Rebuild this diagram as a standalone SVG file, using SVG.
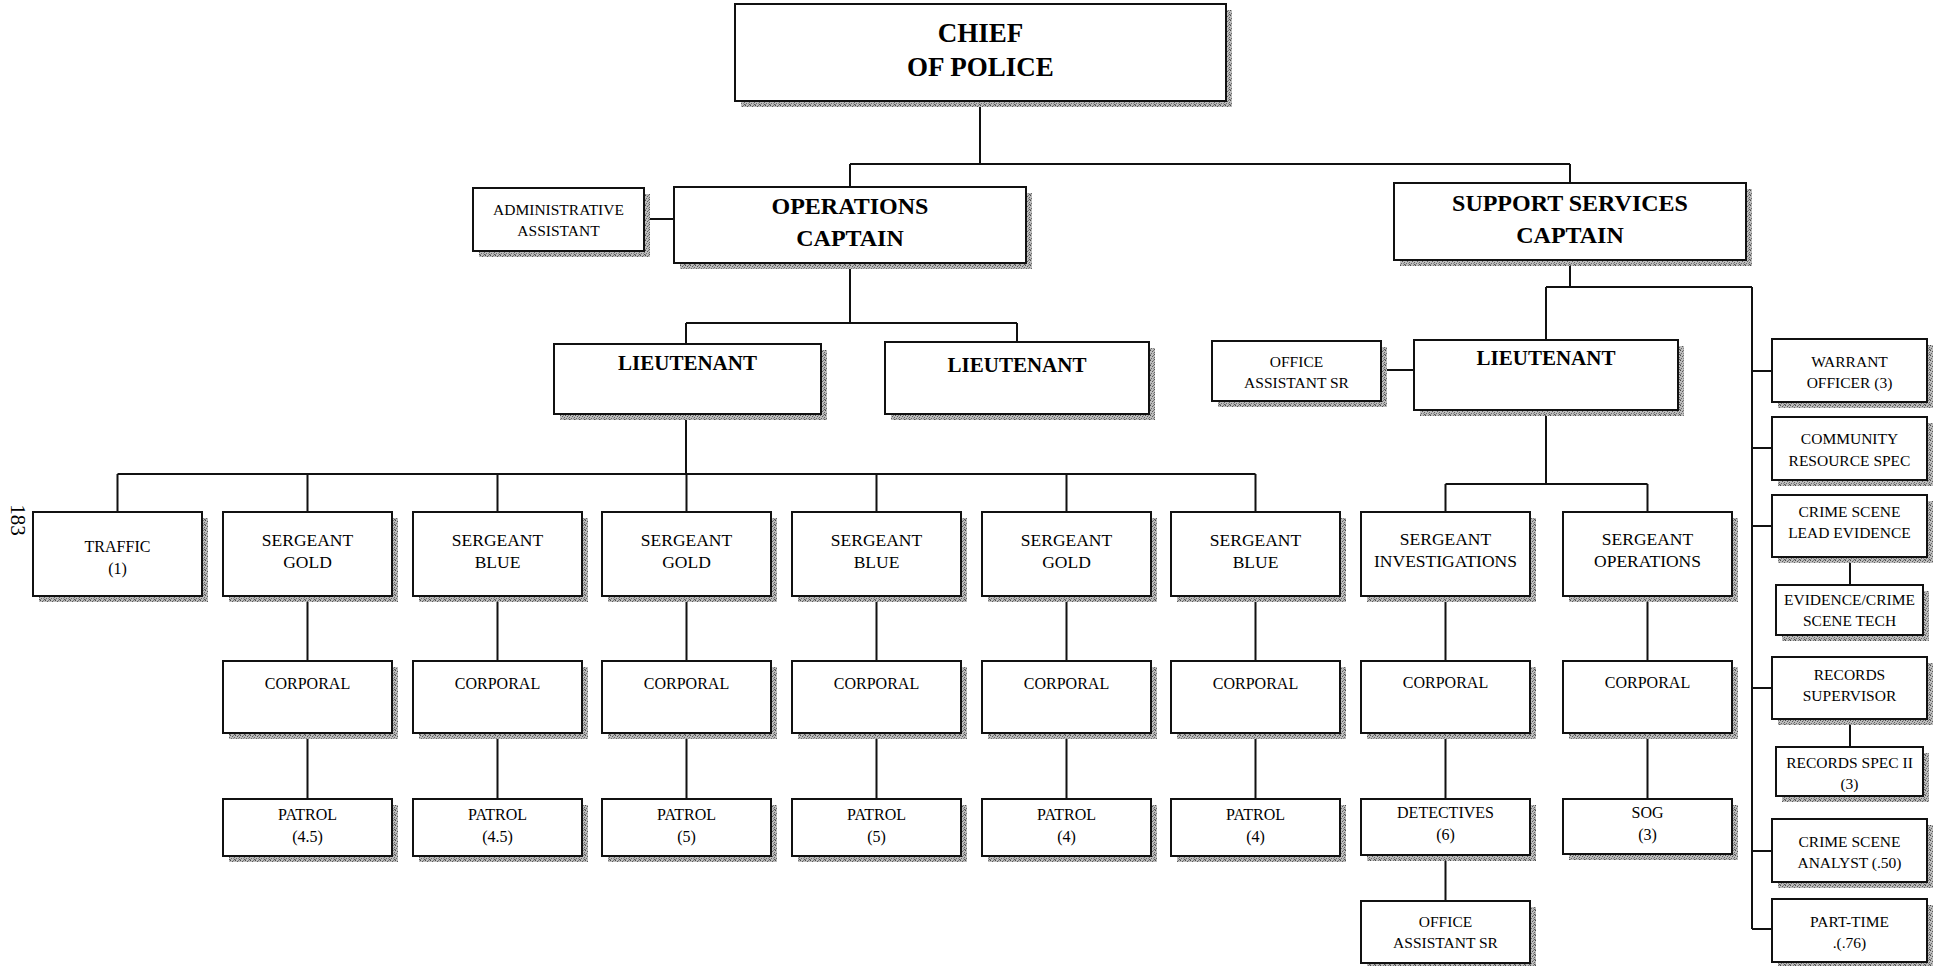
<svg xmlns="http://www.w3.org/2000/svg" width="1938" height="966" viewBox="0 0 1938 966">
  <defs>
    <!-- stippled halftone fill used for the drop shadows behind every box -->
    <pattern id="halftone" width="5" height="5" patternUnits="userSpaceOnUse">
      <rect width="5" height="5" fill="#bcbcbc"/>
      <rect x="0" y="0" width="1" height="1" fill="#4a4a4a"/>
      <rect x="3" y="0" width="1" height="1" fill="#777"/>
      <rect x="2" y="1" width="1" height="1" fill="#5a5a5a"/>
      <rect x="4" y="2" width="1" height="1" fill="#666"/>
      <rect x="1" y="3" width="1" height="1" fill="#6a6a6a"/>
      <rect x="3" y="3" width="1" height="1" fill="#8a8a8a"/>
      <rect x="0" y="4" width="1" height="1" fill="#888"/>
      <rect x="4" y="4" width="1" height="1" fill="#555"/>
    </pattern>
    <style>
      .shadow { fill: url(#halftone); }
      .box { fill: #fff; stroke: #111; stroke-width: 2; }
      .wire { fill: none; stroke: #111; stroke-width: 2; }
      text { font-family: "Liberation Serif", "Times New Roman", serif; fill: #000; text-anchor: middle; }
      .t27 { font-size: 27px; font-weight: bold; }
      .t24 { font-size: 24px; font-weight: bold; }
      .t21 { font-size: 21px; font-weight: bold; }
      .t17 { font-size: 17.5px; }
      .t16 { font-size: 16px; }
      .t15 { font-size: 15.5px; }
    </style>
  </defs>

  <rect width="1938" height="966" fill="#fff"/>

  <!-- page number -->
  <text class="t16" style="font-size:21px" transform="translate(11,520) rotate(90)">183</text>

  <!-- connectors -->
  <g id="connectors" class="wire">
    <path d="M980 101 V164 M850 164 H1570 M850 164 V187 M1570 164 V183"/>
    <path d="M644 219 H674"/>
    <path d="M850 263 V323 M686 323 H1017 M686 323 V344 M1017 323 V342"/>
    <path d="M686 414 V474 M117.5 474 H1255.5"/>
    <path d="M117.5 474 V512 M307.5 474 V512 M497.5 474 V512 M686.5 474 V512 M876.5 474 V512 M1066.5 474 V512 M1255.5 474 V512"/>
    <path d="M307.5 596 V661 M497.5 596 V661 M686.5 596 V661 M876.5 596 V661 M1066.5 596 V661 M1255.5 596 V661"/>
    <path d="M307.5 733 V799 M497.5 733 V799 M686.5 733 V799 M876.5 733 V799 M1066.5 733 V799 M1255.5 733 V799"/>
    <path d="M1381 370 H1414"/>
    <path d="M1570 260 V287 M1546 287 H1752 M1546 287 V340 M1752 287 V929"/>
    <path d="M1752 371 H1772 M1752 448 H1772 M1752 526 H1772 M1752 688 H1772 M1752 851 H1772 M1752 929 H1772"/>
    <path d="M1850 557 V585 M1850 719 V747"/>
    <path d="M1546 410 V484 M1445.5 484 H1647.5 M1445.5 484 V512 M1647.5 484 V512"/>
    <path d="M1445.5 596 V661 M1445.5 733 V799 M1445.5 855 V901"/>
    <path d="M1647.5 596 V661 M1647.5 733 V799"/>
  </g>

  <!-- top level -->
  <g id="chief">
    <rect class="shadow" x="741" y="10" width="491" height="97"/>
    <rect class="box" x="735" y="4" width="491" height="97"/>
    <text class="t27" x="980.5" y="42">CHIEF</text>
    <text class="t27" x="980.5" y="76">OF POLICE</text>
  </g>

  <g id="admin-assistant">
    <rect class="shadow" x="479" y="194" width="171" height="63"/>
    <rect class="box" x="473" y="188" width="171" height="63"/>
    <text class="t15" x="558.5" y="215">ADMINISTRATIVE</text>
    <text class="t15" x="558.5" y="236">ASSISTANT</text>
  </g>

  <g id="operations-captain">
    <rect class="shadow" x="680" y="193" width="352" height="76"/>
    <rect class="box" x="674" y="187" width="352" height="76"/>
    <text class="t24" x="850" y="214">OPERATIONS</text>
    <text class="t24" x="850" y="246">CAPTAIN</text>
  </g>

  <g id="support-captain">
    <rect class="shadow" x="1400" y="189" width="352" height="77"/>
    <rect class="box" x="1394" y="183" width="352" height="77"/>
    <text class="t24" x="1570" y="211">SUPPORT SERVICES</text>
    <text class="t24" x="1570" y="243">CAPTAIN</text>
  </g>

  <!-- lieutenants -->
  <g id="lieutenant-ops-1">
    <rect class="shadow" x="560" y="350" width="267" height="70"/>
    <rect class="box" x="554" y="344" width="267" height="70"/>
    <text class="t21" x="687.5" y="370">LIEUTENANT</text>
  </g>

  <g id="lieutenant-ops-2">
    <rect class="shadow" x="891" y="348" width="264" height="72"/>
    <rect class="box" x="885" y="342" width="264" height="72"/>
    <text class="t21" x="1017" y="372">LIEUTENANT</text>
  </g>

  <g id="office-assistant-sr-1">
    <rect class="shadow" x="1218" y="347" width="169" height="60"/>
    <rect class="box" x="1212" y="341" width="169" height="60"/>
    <text class="t15" x="1296.5" y="367">OFFICE</text>
    <text class="t15" x="1296.5" y="388">ASSISTANT SR</text>
  </g>

  <g id="lieutenant-support">
    <rect class="shadow" x="1420" y="346" width="264" height="70"/>
    <rect class="box" x="1414" y="340" width="264" height="70"/>
    <text class="t21" x="1546" y="365">LIEUTENANT</text>
  </g>

  <!-- support services side column -->
  <g id="warrant-officer">
    <rect class="shadow" x="1778" y="345" width="155" height="63"/>
    <rect class="box" x="1772" y="339" width="155" height="63"/>
    <text class="t15" x="1849.5" y="367">WARRANT</text>
    <text class="t15" x="1849.5" y="388">OFFICER (3)</text>
  </g>

  <g id="community-resource">
    <rect class="shadow" x="1778" y="423" width="155" height="63"/>
    <rect class="box" x="1772" y="417" width="155" height="63"/>
    <text class="t15" x="1849.5" y="444">COMMUNITY</text>
    <text class="t15" x="1849.5" y="466">RESOURCE SPEC</text>
  </g>

  <g id="crime-scene-lead">
    <rect class="shadow" x="1778" y="501" width="155" height="62"/>
    <rect class="box" x="1772" y="495" width="155" height="62"/>
    <text class="t15" x="1849.5" y="517">CRIME SCENE</text>
    <text class="t15" x="1849.5" y="538">LEAD EVIDENCE</text>
  </g>

  <g id="evidence-tech">
    <rect class="shadow" x="1782" y="591" width="147" height="50"/>
    <rect class="box" x="1776" y="585" width="147" height="50"/>
    <text class="t15" x="1849.5" y="605">EVIDENCE/CRIME</text>
    <text class="t15" x="1849.5" y="626">SCENE TECH</text>
  </g>

  <g id="records-supervisor">
    <rect class="shadow" x="1778" y="663" width="155" height="62"/>
    <rect class="box" x="1772" y="657" width="155" height="62"/>
    <text class="t15" x="1849.5" y="680">RECORDS</text>
    <text class="t15" x="1849.5" y="701">SUPERVISOR</text>
  </g>

  <g id="records-spec">
    <rect class="shadow" x="1782" y="753" width="147" height="49"/>
    <rect class="box" x="1776" y="747" width="147" height="49"/>
    <text class="t15" x="1849.5" y="768">RECORDS SPEC II</text>
    <text class="t15" x="1849.5" y="789">(3)</text>
  </g>

  <g id="crime-scene-analyst">
    <rect class="shadow" x="1778" y="825" width="155" height="63"/>
    <rect class="box" x="1772" y="819" width="155" height="63"/>
    <text class="t15" x="1849.5" y="847">CRIME SCENE</text>
    <text class="t15" x="1849.5" y="868">ANALYST (.50)</text>
  </g>

  <g id="part-time">
    <rect class="shadow" x="1778" y="905" width="155" height="63"/>
    <rect class="box" x="1772" y="899" width="155" height="63"/>
    <text class="t15" x="1849.5" y="927">PART-TIME</text>
    <text class="t15" x="1849.5" y="948">.(.76)</text>
  </g>

  <!-- operations lieutenant's units -->
  <g id="traffic">
    <rect class="shadow" x="39" y="518" width="169" height="84"/>
    <rect class="box" x="33" y="512" width="169" height="84"/>
    <text class="t16" x="117.5" y="552">TRAFFIC</text>
    <text class="t16" x="117.5" y="574">(1)</text>
  </g>

  <g id="sergeant-gold-1">
    <rect class="shadow" x="229" y="518" width="169" height="84"/>
    <rect class="box" x="223" y="512" width="169" height="84"/>
    <text class="t17" x="307.5" y="546">SERGEANT</text>
    <text class="t17" x="307.5" y="568">GOLD</text>
  </g>
  <g id="corporal-1">
    <rect class="shadow" x="229" y="667" width="169" height="72"/>
    <rect class="box" x="223" y="661" width="169" height="72"/>
    <text class="t16" x="307.5" y="689">CORPORAL</text>
  </g>
  <g id="patrol-1">
    <rect class="shadow" x="229" y="805" width="169" height="57"/>
    <rect class="box" x="223" y="799" width="169" height="57"/>
    <text class="t16" x="307.5" y="820">PATROL</text>
    <text class="t16" x="307.5" y="842">(4.5)</text>
  </g>

  <g id="sergeant-blue-1">
    <rect class="shadow" x="419" y="518" width="169" height="84"/>
    <rect class="box" x="413" y="512" width="169" height="84"/>
    <text class="t17" x="497.5" y="546">SERGEANT</text>
    <text class="t17" x="497.5" y="568">BLUE</text>
  </g>
  <g id="corporal-2">
    <rect class="shadow" x="419" y="667" width="169" height="72"/>
    <rect class="box" x="413" y="661" width="169" height="72"/>
    <text class="t16" x="497.5" y="689">CORPORAL</text>
  </g>
  <g id="patrol-2">
    <rect class="shadow" x="419" y="805" width="169" height="57"/>
    <rect class="box" x="413" y="799" width="169" height="57"/>
    <text class="t16" x="497.5" y="820">PATROL</text>
    <text class="t16" x="497.5" y="842">(4.5)</text>
  </g>

  <g id="sergeant-gold-2">
    <rect class="shadow" x="608" y="518" width="169" height="84"/>
    <rect class="box" x="602" y="512" width="169" height="84"/>
    <text class="t17" x="686.5" y="546">SERGEANT</text>
    <text class="t17" x="686.5" y="568">GOLD</text>
  </g>
  <g id="corporal-3">
    <rect class="shadow" x="608" y="667" width="169" height="72"/>
    <rect class="box" x="602" y="661" width="169" height="72"/>
    <text class="t16" x="686.5" y="689">CORPORAL</text>
  </g>
  <g id="patrol-3">
    <rect class="shadow" x="608" y="805" width="169" height="57"/>
    <rect class="box" x="602" y="799" width="169" height="57"/>
    <text class="t16" x="686.5" y="820">PATROL</text>
    <text class="t16" x="686.5" y="842">(5)</text>
  </g>

  <g id="sergeant-blue-2">
    <rect class="shadow" x="798" y="518" width="169" height="84"/>
    <rect class="box" x="792" y="512" width="169" height="84"/>
    <text class="t17" x="876.5" y="546">SERGEANT</text>
    <text class="t17" x="876.5" y="568">BLUE</text>
  </g>
  <g id="corporal-4">
    <rect class="shadow" x="798" y="667" width="169" height="72"/>
    <rect class="box" x="792" y="661" width="169" height="72"/>
    <text class="t16" x="876.5" y="689">CORPORAL</text>
  </g>
  <g id="patrol-4">
    <rect class="shadow" x="798" y="805" width="169" height="57"/>
    <rect class="box" x="792" y="799" width="169" height="57"/>
    <text class="t16" x="876.5" y="820">PATROL</text>
    <text class="t16" x="876.5" y="842">(5)</text>
  </g>

  <g id="sergeant-gold-3">
    <rect class="shadow" x="988" y="518" width="169" height="84"/>
    <rect class="box" x="982" y="512" width="169" height="84"/>
    <text class="t17" x="1066.5" y="546">SERGEANT</text>
    <text class="t17" x="1066.5" y="568">GOLD</text>
  </g>
  <g id="corporal-5">
    <rect class="shadow" x="988" y="667" width="169" height="72"/>
    <rect class="box" x="982" y="661" width="169" height="72"/>
    <text class="t16" x="1066.5" y="689">CORPORAL</text>
  </g>
  <g id="patrol-5">
    <rect class="shadow" x="988" y="805" width="169" height="57"/>
    <rect class="box" x="982" y="799" width="169" height="57"/>
    <text class="t16" x="1066.5" y="820">PATROL</text>
    <text class="t16" x="1066.5" y="842">(4)</text>
  </g>

  <g id="sergeant-blue-3">
    <rect class="shadow" x="1177" y="518" width="169" height="84"/>
    <rect class="box" x="1171" y="512" width="169" height="84"/>
    <text class="t17" x="1255.5" y="546">SERGEANT</text>
    <text class="t17" x="1255.5" y="568">BLUE</text>
  </g>
  <g id="corporal-6">
    <rect class="shadow" x="1177" y="667" width="169" height="72"/>
    <rect class="box" x="1171" y="661" width="169" height="72"/>
    <text class="t16" x="1255.5" y="689">CORPORAL</text>
  </g>
  <g id="patrol-6">
    <rect class="shadow" x="1177" y="805" width="169" height="57"/>
    <rect class="box" x="1171" y="799" width="169" height="57"/>
    <text class="t16" x="1255.5" y="820">PATROL</text>
    <text class="t16" x="1255.5" y="842">(4)</text>
  </g>

  <!-- support lieutenant's units -->
  <g id="sergeant-investigations">
    <rect class="shadow" x="1367" y="518" width="169" height="84"/>
    <rect class="box" x="1361" y="512" width="169" height="84"/>
    <text class="t17" x="1445.5" y="545">SERGEANT</text>
    <text class="t17" x="1445.5" y="567">INVESTIGATIONS</text>
  </g>
  <g id="corporal-investigations">
    <rect class="shadow" x="1367" y="667" width="169" height="72"/>
    <rect class="box" x="1361" y="661" width="169" height="72"/>
    <text class="t16" x="1445.5" y="688">CORPORAL</text>
  </g>
  <g id="detectives">
    <rect class="shadow" x="1367" y="805" width="169" height="56"/>
    <rect class="box" x="1361" y="799" width="169" height="56"/>
    <text class="t16" x="1445.5" y="818">DETECTIVES</text>
    <text class="t16" x="1445.5" y="840">(6)</text>
  </g>
  <g id="office-assistant-sr-2">
    <rect class="shadow" x="1367" y="907" width="169" height="62"/>
    <rect class="box" x="1361" y="901" width="169" height="62"/>
    <text class="t15" x="1445.5" y="927">OFFICE</text>
    <text class="t15" x="1445.5" y="948">ASSISTANT SR</text>
  </g>

  <g id="sergeant-operations">
    <rect class="shadow" x="1569" y="518" width="169" height="84"/>
    <rect class="box" x="1563" y="512" width="169" height="84"/>
    <text class="t17" x="1647.5" y="545">SERGEANT</text>
    <text class="t17" x="1647.5" y="567">OPERATIONS</text>
  </g>
  <g id="corporal-operations">
    <rect class="shadow" x="1569" y="667" width="169" height="72"/>
    <rect class="box" x="1563" y="661" width="169" height="72"/>
    <text class="t16" x="1647.5" y="688">CORPORAL</text>
  </g>
  <g id="sog">
    <rect class="shadow" x="1569" y="805" width="169" height="55"/>
    <rect class="box" x="1563" y="799" width="169" height="55"/>
    <text class="t16" x="1647.5" y="818">SOG</text>
    <text class="t16" x="1647.5" y="840">(3)</text>
  </g>
</svg>
